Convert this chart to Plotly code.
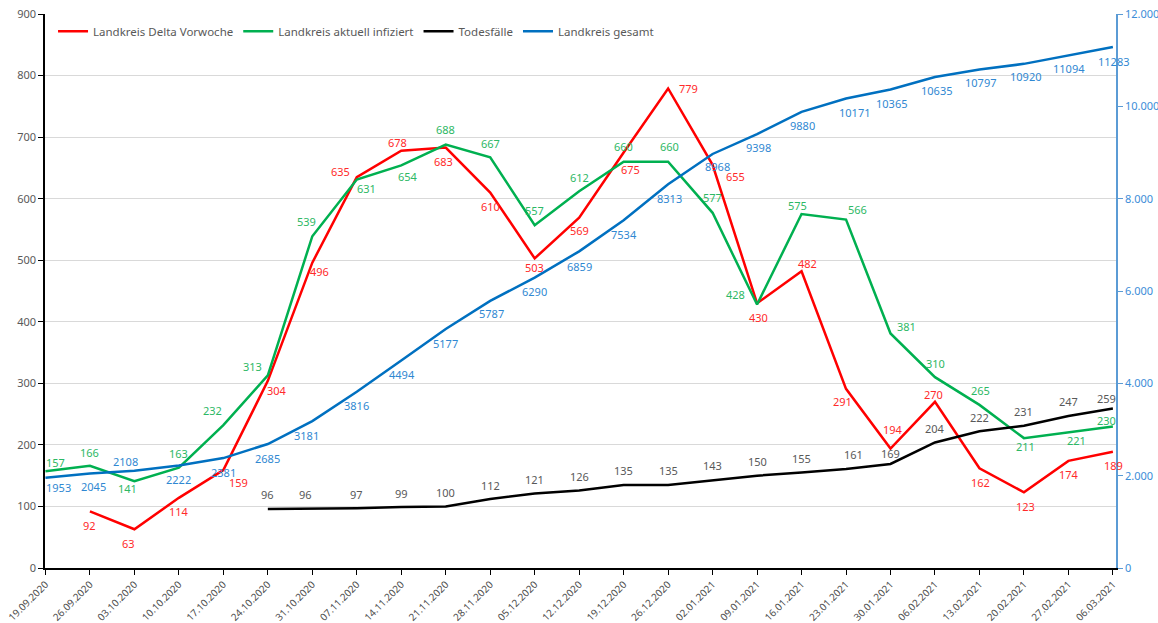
import plotly.graph_objects as go

dates = ["19.09.2020", "26.09.2020", "03.10.2020", "10.10.2020", "17.10.2020",
         "24.10.2020", "31.10.2020", "07.11.2020", "14.11.2020", "21.11.2020",
         "28.11.2020", "05.12.2020", "12.12.2020", "19.12.2020", "26.12.2020",
         "02.01.2021", "09.01.2021", "16.01.2021", "23.01.2021", "30.01.2021",
         "06.02.2021", "13.02.2021", "20.02.2021", "27.02.2021", "06.03.2021"]

delta_vorwoche = [None, 92, 63, 114, 159, 304, 496, 635, 678, 683, 610, 503, 569,
                  675, 779, 655, 430, 482, 291, 194, 270, 162, 123, 174, 189]
aktuell_infiziert = [157, 166, 141, 163, 232, 313, 539, 631, 654, 688, 667, 557, 612,
                     660, 660, 577, 428, 575, 566, 381, 310, 265, 211, 221, 230]
todesfaelle = [None, None, None, None, None, 96, 96, 97, 99, 100, 112, 121, 126,
               135, 135, 143, 150, 155, 161, 169, 204, 222, 231, 247, 259]
landkreis_gesamt = [1953, 2045, 2108, 2222, 2381, 2685, 3181, 3816, 4494, 5177, 5787,
                    6290, 6859, 7534, 8313, 8968, 9398, 9880, 10171, 10365, 10635,
                    10797, 10920, 11094, 11283]

# label offsets (screen px: dx right, dy down) -- styling only
off_red = [None, (0, 14), (-6, 14), (0, 14), (15, 12), (9, 10), (7, 9), (-16, -6),
           (-4, -8), (-2, 14), (0, 14), (0, 9), (0, 13), (7, 17), (20, 0), (23, 12),
           (1, 14), (6, -8), (-4, 13), (2, -19), (-1, -7), (1, 14), (2, 14), (1, 14), (1, 14)]
off_green = [(10, -9), (0, -13), (-7, 7), (0, -14), (-11, -15), (-15, -9), (-6, -15),
             (10, 9), (7, 11), (0, -15), (0, -14), (0, -15), (0, -14), (0, -15), (1, -15),
             (0, -15), (-22, -10), (-4, -9), (11, -10), (16, -7), (1, -14), (1, -14),
             (2, 8), (8, 9), (-6, -6)]
off_black = [None] * 5 + [(0, -14), (-7, -14)] + [(0, -14)] * 11 + [(7, -14), (0, -10)] + \
            [(0, -14)] * 4 + [(-6, -10)]
off_blue = [(13, 10), (4, 13), (-9, -9), (0, 14), (0, 14), (0, 14), (-6, 14), (0, 14),
            (1, 14), (0, 14), (1, 13), (0, 14), (0, 15), (0, 14), (1, 14), (5, 13),
            (1, 13), (1, 14), (8, 14), (1, 14), (2, 13), (1, 13), (2, 13), (1, 13), (1, 14)]

FONT = "Noto Sans"
C_RED, C_GREEN, C_BLACK, C_BLUE = "#FF0000", "#00B050", "#000000", "#0070C0"
T_RED, T_GREEN, T_GREY, T_BLUE = "#FF2A2A", "#2DB865", "#595959", "#3088D2"

fig = go.Figure()
fig.add_trace(go.Scatter(x=dates, y=delta_vorwoche, mode="lines", name="Landkreis Delta Vorwoche",
                         line=dict(color=C_RED, width=2.5)))
fig.add_trace(go.Scatter(x=dates, y=aktuell_infiziert, mode="lines", name="Landkreis aktuell infiziert",
                         line=dict(color=C_GREEN, width=2.5)))
fig.add_trace(go.Scatter(x=dates, y=todesfaelle, mode="lines", name="Todesfälle",
                         line=dict(color=C_BLACK, width=2.5)))
fig.add_trace(go.Scatter(x=dates, y=landkreis_gesamt, mode="lines", name="Landkreis gesamt",
                         line=dict(color=C_BLUE, width=2.5), yaxis="y2"))

annotations = []


def add_labels(values, offsets, color, yref="y"):
    for d, v, o in zip(dates, values, offsets):
        if v is None:
            continue
        annotations.append(dict(x=d, y=v, xref="x", yref=yref, text=str(v), showarrow=False,
                                xanchor="center", yanchor="middle", xshift=o[0], yshift=-o[1],
                                font=dict(family=FONT, size=11, color=color)))


add_labels(delta_vorwoche, off_red, T_RED)
add_labels(aktuell_infiziert, off_green, T_GREEN)
add_labels(todesfaelle, off_black, T_GREY)
add_labels(landkreis_gesamt, off_blue, T_BLUE, "y2")

fig.update_layout(
    width=1158, height=623,
    margin=dict(l=45, r=42, t=14, b=55, autoexpand=False),
    plot_bgcolor="white", paper_bgcolor="white",
    separators=",.",
    font=dict(family=FONT, size=11, color=T_GREY),
    annotations=annotations,
    showlegend=True,
    legend=dict(orientation="h", x=0.0075, y=0.969, xanchor="left", yanchor="middle",
                font=dict(family=FONT, size=11.5, color=T_GREY), itemwidth=30,
                bgcolor="rgba(0,0,0,0)"),
    xaxis=dict(type="category", range=[-0.01, 24.07], tickangle=-45, automargin=False,
               showline=True, linecolor="#000000", linewidth=1.5,
               ticks="outside", ticklen=5, tickcolor="#000000",
               showgrid=False, tickfont=dict(family=FONT, size=10, color="#4D4D4D")),
    yaxis=dict(range=[0, 900], dtick=100, showline=True, linecolor="#000000", linewidth=1.5,
               ticks="outside", ticklen=5, tickcolor="#000000", automargin=False,
               showgrid=True, gridcolor="#D9D9D9", gridwidth=1, zeroline=False,
               tickfont=dict(family=FONT, size=11, color=T_GREY)),
    yaxis2=dict(range=[0, 12000], dtick=2000, overlaying="y", side="right", tickformat=",d",
                showline=True, linecolor="#5B9BD5", linewidth=1.5, automargin=False,
                ticks="outside", ticklen=5, tickcolor="#5B9BD5",
                showgrid=False, zeroline=False,
                tickfont=dict(family=FONT, size=11, color="#3C8DD8")),
)

fig.write_html("out.html", config={"displayModeBar": False},
               post_script="document.body.style.margin='0px';")
